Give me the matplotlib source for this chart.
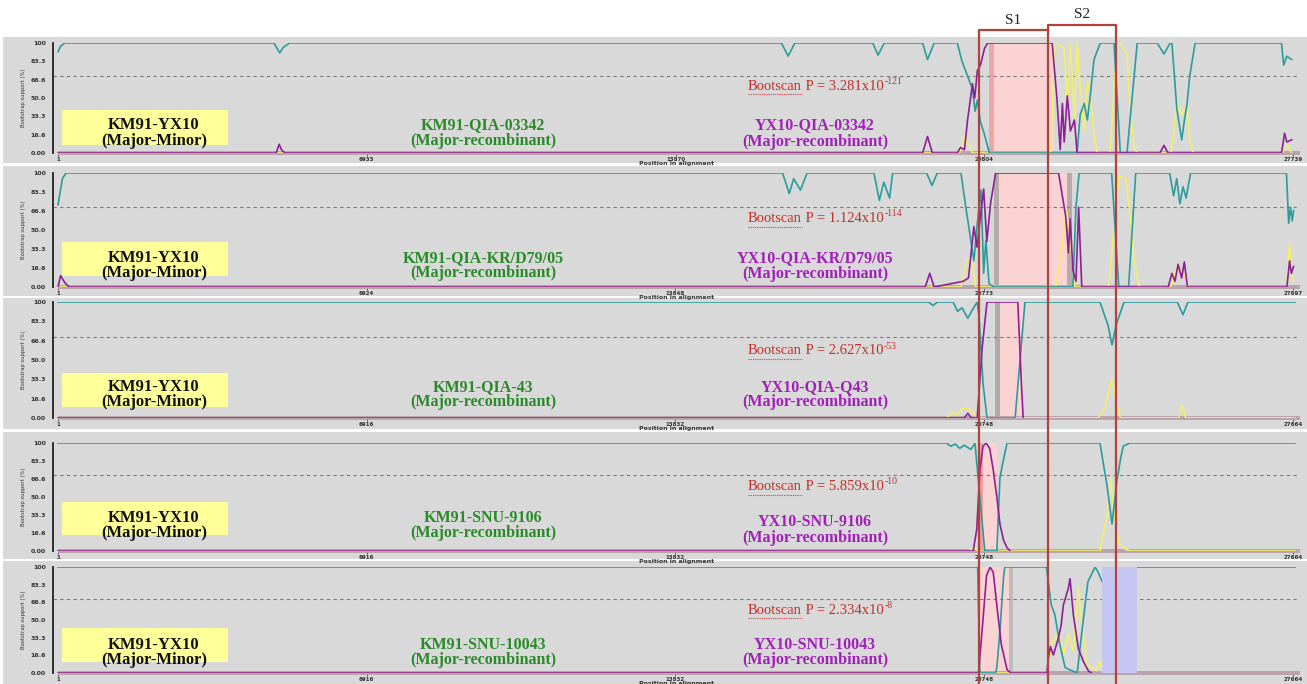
import numpy as np
import matplotlib.pyplot as plt
from matplotlib.patches import Rectangle
from matplotlib.lines import Line2D

# Data ########################################################################

lengths = [27739, 27697, 27664, 27664, 27664]
p1_xticks = [1, 6935, 13870, 20804, 27739]
p2_xticks = [1, 6924, 13848, 20773, 27697]
p3_xticks = [1, 6916, 13832, 20748, 27664]
p4_xticks = [1, 6916, 13832, 20748, 27664]
p5_xticks = [1, 6916, 13832, 20748, 27664]

yticks = [0, 16.6, 33.3, 50, 66.6, 83.3, 100]
ytick_labels = ['0.00', '16.6', '33.3', '50.0', '66.6', '83.3', '100']

green_names = ['KM91-QIA-03342', 'KM91-QIA-KR/D79/05', 'KM91-QIA-43',
               'KM91-SNU-9106', 'KM91-SNU-10043']
purple_names = ['YX10-QIA-03342', 'YX10-QIA-KR/D79/05', 'YX10-QIA-Q43',
                'YX10-SNU-9106', 'YX10-SNU-10043']
p_mant = ['3.281', '1.124', '2.627', '5.859', '2.334']
p_exp = ['-121', '-114', '-53', '-10', '-8']

# breakpoints (alignment position) of S1 / S2
s_bounds = [20630, 22176, 23700]

# panel 1
p1_teal_x = [1, 60, 150, 4850, 4980, 5060, 5200, 16250, 16400, 16550, 18300, 18420, 18560,
             19420, 19530, 19680, 20200, 20300, 20430, 20540, 20600, 20650, 20720, 20800, 20920,
             22890, 22960, 23050, 23120, 23180, 23270, 23410, 23720, 23860, 24010, 24240,
             24690, 24840, 24980, 25020, 25130, 25240, 25300, 25360, 25420, 25540,
             27480, 27530, 27600, 27710]
p1_teal_y = [92, 97, 100, 100, 91, 96, 100, 100, 88, 100, 100, 89, 100,
             100, 85, 100, 100, 84, 70, 58, 38, 48, 28, 18, 0,
             0, 35, 45, 30, 50, 85, 100, 100, 0, 0, 100,
             100, 90, 100, 100, 40, 12, 30, 45, 70, 100,
             100, 80, 88, 85]
p1_purple_x = [1, 4900, 4970, 5020, 5100, 19420, 19530, 19640, 20200, 20270, 20360, 20430,
               20540, 20590, 20650, 20720, 20810, 20880, 22330, 22440, 22510, 22560, 22600,
               22670, 22740, 22830, 22890, 24750, 24840, 24930, 27480, 27550, 27600, 27710]
p1_purple_y = [0, 0, 8, 3, 0, 0, 15, 0, 0, 5, 3, 30,
               63, 50, 75, 80, 95, 100, 100, 48, 3, 45, 10,
               52, 20, 30, 0, 0, 7, 0, 0, 18, 10, 12]
p1_yellow_x = [1, 20250, 20360, 20450, 20540, 22300, 22380, 22440, 22600, 22670, 22740, 22830,
               22890, 22960, 23050, 23120, 23180, 23270, 23340, 23630, 23720, 23790, 23860,
               24010, 24080, 24170, 24240, 25000, 25130, 25240, 25360, 25420, 25500,
               27500, 27600, 27710]
p1_yellow_y = [0, 0, 15, 8, 0, 0, 100, 100, 95, 40, 100, 30,
               100, 60, 20, 65, 55, 15, 0, 0, 60, 100, 100,
               90, 40, 5, 0, 0, 45, 35, 45, 10, 0,
               0, 8, 0]

# panel 2
p2_teal_x = [1, 100, 180, 16250, 16400, 16500, 16650, 16800, 18300, 18420, 18520, 18650, 18720,
             19480, 19600, 19720, 20250, 20360, 20540, 20610, 20700, 20760, 20810, 20880, 20990,
             22760, 22830, 22900, 23630, 23790, 24010, 24170, 24930, 25020, 25090, 25160, 25230,
             25300, 25400, 27550, 27600, 27640, 27680, 27710]
p2_teal_y = [72, 95, 100, 100, 82, 95, 85, 100, 100, 76, 92, 78, 100,
             100, 89, 100, 100, 70, 23, 53, 85, 12, 41, 3, 0,
             0, 70, 100, 100, 0, 0, 100, 100, 80, 95, 73, 88,
             78, 100, 100, 56, 70, 58, 67]
p2_purple_x = [1, 60, 150, 250, 19450, 19550, 19650, 20300, 20420, 20540, 20610, 20760, 20830,
               20920, 21030, 22440, 22600, 22660, 22700, 22760, 22830, 22890, 22960, 24900,
               24980, 25050, 25120, 25200, 25260, 25330, 27560, 27620, 27660, 27710]
p2_purple_y = [0, 10, 4, 0, 0, 12, 0, 5, 8, 53, 35, 86, 40,
               75, 100, 100, 62, 30, 60, 15, 5, 70, 0, 0,
               12, 5, 20, 8, 22, 0, 0, 23, 12, 18]
p2_yellow_x = [1, 20250, 20360, 20470, 20580, 22380, 22500, 22620, 22700, 22800, 23560, 23700,
               23800, 23950, 24050, 24150, 24250, 24950, 25100, 25250, 25350, 27560, 27620,
               27660, 27710]
p2_yellow_y = [0, 0, 22, 26, 0, 0, 30, 67, 40, 0, 0, 60,
               98, 95, 60, 20, 0, 0, 18, 12, 0, 0, 38,
               10, 5]

# panel 3
p3_teal_x = [1, 19500, 19600, 19700, 20050, 20150, 20250, 20380, 20480, 20590, 20630, 20720,
             20810, 21440, 21550, 21660, 23340, 23520, 23610, 23700, 23880, 25070, 25200,
             25310, 27710]
p3_teal_y = [100, 100, 97, 100, 100, 92, 95, 86, 93, 100, 88, 30,
             0, 0, 50, 100, 100, 80, 63, 80, 100, 100, 89,
             100, 100]
p3_purple_x = [1, 20300, 20380, 20460, 20590, 20700, 20810, 21500, 21580, 21620]
p3_purple_y = [0, 0, 4, 0, 0, 60, 100, 100, 30, 0]
p3_yellow_x = [1, 19900, 20050, 20150, 20250, 20380, 20500, 20600, 23300, 23450, 23520, 23610,
               23700, 23800, 25100, 25180, 25260, 27710]
p3_yellow_y = [0, 0, 5, 3, 8, 9, 5, 0, 0, 8, 20, 33,
               15, 0, 0, 11, 0, 0]

# panel 4
p4_teal_x = [1, 19900, 20000, 20100, 20200, 20300, 20450, 20540, 20650, 20760, 21030, 21100,
             21180, 21260, 23340, 23500, 23610, 23720, 23800, 23860, 24010, 27710]
p4_teal_y = [100, 100, 97, 99, 95, 98, 94, 100, 50, 0, 0, 68,
             85, 100, 100, 60, 25, 65, 85, 97, 100, 100]
p4_purple_x = [1, 20500, 20580, 20650, 20720, 20790, 20870, 20950, 21030, 21100, 21180, 21260, 21330]
p4_purple_y = [0, 0, 20, 75, 97, 100, 95, 75, 50, 25, 10, 3, 0]
p4_yellow_x = [1, 20400, 20520, 20600, 23340, 23500, 23580, 23660, 23760, 23900, 24010, 27710]
p4_yellow_y = [0, 0, 3, 0, 0, 34, 68, 34, 8, 2, 0, 0]

# panel 5
p5_teal_x = [1, 20600, 20650, 21000, 21030, 21100, 21180, 21210, 22140, 22250, 22330, 22440,
             22560, 22830, 22960, 23070, 23230, 23300, 23390, 23600, 27710]
p5_teal_y = [100, 100, 0, 0, 5, 40, 90, 100, 100, 64, 55, 27,
             5, 0, 48, 86, 100, 95, 86, 100, 100]
p5_purple_x = [1, 20620, 20700, 20800, 20880, 20950, 21030, 21130, 21260, 21350, 22150, 22185,
               22230, 22297, 22409, 22470, 22520, 22632, 22669, 22744, 22856, 22968, 23080, 23150]
p5_purple_y = [0, 0, 40, 92, 100, 95, 64, 27, 3, 0, 0, 14,
               25, 17, 33, 45, 64, 80, 89, 55, 23, 11, 2, 0]
p5_yellow_x = [1, 22150, 22257, 22409, 22520, 22632, 22744, 22856, 22930, 23043, 23266, 23341, 23400]
p5_yellow_y = [0, 0, 27, 39, 17, 36, 20, 80, 48, 8, 2, 11, 0]

# shaded regions (start, end, colour)
p1_spans = [(20922, 22378, '#fcd3d3'), (20922, 21034, '#eda5a5')]
p2_spans = [(21034, 22736, '#fcd3d3'), (20989, 21101, '#b9aaaa'), (22630, 22740, '#b9aaaa')]
p3_spans = [(20989, 21616, '#fcd3d3'), (20989, 21090, '#ababab')]
p4_spans = [(20653, 21034, '#fcd3d3'), (20653, 20720, '#eaa0a0')]
p5_spans = [(20608, 21392, '#fcd3d3'), (21300, 21392, '#bcbcbc')]
p5_top_spans = [(23386, 24170, '#c6c6f4')]

# Layout ######################################################################

W, H = 1307, 684
TEAL, PURPLE, YELLOW = '#2b9c9c', '#8e2096', '#f2ef6c'
BG = '#d9d9d9'
RED = '#b3423c'

fig = plt.figure(figsize=(W / 100, H / 100), dpi=100)
fig.patch.set_facecolor('white')
renderer = fig.canvas.get_renderer()


def fx(px):
    return px / W


def fy(py):
    return 1 - py / H


panels = [
    dict(xt=p1_xticks, tx=p1_teal_x, ty=p1_teal_y, px=p1_purple_x, py=p1_purple_y,
         yx=p1_yellow_x, yy=p1_yellow_y, spans=p1_spans, top=[],
         bg=(37, 163), plot=(43, 153), box=(110, 145), rows=(125, 141), prow=(125, 142), boot=86),
    dict(xt=p2_xticks, tx=p2_teal_x, ty=p2_teal_y, px=p2_purple_x, py=p2_purple_y,
         yx=p2_yellow_x, yy=p2_yellow_y, spans=p2_spans, top=[],
         bg=(166, 296), plot=(173, 287), box=(242, 276), rows=(258, 273), prow=(258, 274), boot=219),
    dict(xt=p3_xticks, tx=p3_teal_x, ty=p3_teal_y, px=p3_purple_x, py=p3_purple_y,
         yx=p3_yellow_x, yy=p3_yellow_y, spans=p3_spans, top=[],
         bg=(298, 429), plot=(302, 418), box=(373, 407), rows=(387, 402), prow=(387, 402), boot=351),
    dict(xt=p4_xticks, tx=p4_teal_x, ty=p4_teal_y, px=p4_purple_x, py=p4_purple_y,
         yx=p4_yellow_x, yy=p4_yellow_y, spans=p4_spans, top=[],
         bg=(432, 559), plot=(443, 551), box=(502, 535), rows=(518, 533), prow=(522, 538), boot=487),
    dict(xt=p5_xticks, tx=p5_teal_x, ty=p5_teal_y, px=p5_purple_x, py=p5_purple_y,
         yx=p5_yellow_x, yy=p5_yellow_y, spans=p5_spans, top=p5_top_spans,
         bg=(561, 684), plot=(567, 673), box=(628, 662), rows=(645, 660), prow=(645, 660), boot=610),
]

serif = 'Liberation Serif'
axes = []
for i, p in enumerate(panels):
    L = lengths[i]
    s = (L - 1) / 1235.0
    # panel background
    fig.patches.append(Rectangle((fx(3), fy(p['bg'][1])), fx(1307) - fx(3),
                                 (p['bg'][1] - p['bg'][0]) / H, transform=fig.transFigure,
                                 facecolor=BG, edgecolor='none', zorder=-5))
    top, bot = p['plot']
    ax = fig.add_axes([fx(53), fy(bot), fx(1300) - fx(53), (bot - top) / H])
    ax.set_facecolor('none')
    ax.set_xlim(1 - 5 * s, L + 7 * s)
    ax.set_ylim(0, 100)
    for side in ['top', 'right', 'bottom']:
        ax.spines[side].set_visible(False)
    ax.spines['left'].set_color('#222222')
    ax.spines['left'].set_linewidth(1.3)

    for a, b, c in p['spans']:
        ax.axvspan(a, b, color=c, lw=0, zorder=1)
    ax.axhline(70, color='#7a7a7a', lw=0.8, ls=(0, (3, 3)), zorder=1.5)
    ax.hlines(0, 1, L + 7 * s, color='#bba2ad', lw=2.8, clip_on=False, zorder=2)

    ax.plot(p['yx'], p['yy'], color=YELLOW, lw=1.2, zorder=3)
    ax.plot(p['tx'], p['ty'], color=TEAL, lw=1.2, zorder=3.2)
    ax.plot(p['px'], p['py'], color=PURPLE, lw=1.2, zorder=3.4)
    for a, b, c in p['top']:
        ax.axvspan(a, b, color=c, lw=0, zorder=4)

    ax.set_yticks(yticks)
    ax.set_yticklabels(ytick_labels, fontsize=4.5, fontweight='bold', color='#333333')
    ax.tick_params(axis='y', length=0, pad=5)
    ax.set_xticks(p['xt'])
    ax.set_xticklabels([str(v) for v in p['xt']], fontsize=4, fontweight='bold', color='#333333')
    ax.tick_params(axis='x', length=2, width=0.6, pad=1, color='#333333')
    ax.set_xlabel('Position in alignment', fontsize=4.5, fontweight='bold', labelpad=-1,
                  color='#333333')
    ax.set_ylabel('Bootstrap support (%)', fontsize=3.8, labelpad=3, color='#333333')
    axes.append(ax)

    # annotations
    b0, b1 = p['box']
    fig.patches.append(Rectangle((fx(62), fy(b1)), fx(228) - fx(62), (b1 - b0) / H,
                                 transform=fig.transFigure, facecolor='#ffff99',
                                 edgecolor='none', zorder=1))
    r0, r1 = p['rows']
    fig.text(fx(154), fy(r0), 'KM91-YX10', ha='center', va='center', family=serif,
             weight='bold', size=12, color='#111111')
    fig.text(fx(154), fy(r1), '(Major-Minor)', ha='center', va='center', family=serif,
             weight='bold', size=12, color='#111111')
    fig.text(fx(483), fy(r0), green_names[i], ha='center', va='center', family=serif,
             weight='bold', size=11.5, color='#2a8a2a')
    fig.text(fx(483), fy(r1), '(Major-recombinant)', ha='center', va='center', family=serif,
             weight='bold', size=11.5, color='#2a8a2a')
    q0, q1 = p['prow']
    fig.text(fx(815), fy(q0), purple_names[i], ha='center', va='center', family=serif,
             weight='bold', size=11.5, color='#a020b8')
    fig.text(fx(815), fy(q1), '(Major-recombinant)', ha='center', va='center', family=serif,
             weight='bold', size=11.5, color='#a020b8')

    # Bootscan P with superscript exponent and spell-check squiggle
    by = p['boot']
    t0 = fig.text(fx(748), fy(by), 'Bootscan', ha='left', va='center', family=serif,
                  size=10.5, color='#c0302a')
    bb0 = t0.get_window_extent(renderer)
    t1 = fig.text(bb0.x1 / W, fy(by), ' P = ' + p_mant[i] + 'x10', ha='left', va='center',
                  family=serif, size=10.5, color='#c0302a')
    bb1 = t1.get_window_extent(renderer)
    fig.text(bb1.x1 / W + 0.0005, fy(by - 5), p_exp[i], ha='left', va='center', family=serif,
             size=7, color='#c0302a')
    fig.add_artist(Line2D([bb0.x0 / W, bb0.x1 / W], [fy(by + 8), fy(by + 8)],
                          color='#d04040', lw=0.8, ls=(0, (1, 1)), transform=fig.transFigure))

# S1 / S2 boxes across all panels
ref = axes[2]
xs = [ref.transData.transform((v, 0))[0] / fig.bbox.width for v in s_bounds]
lk = dict(color=RED, lw=1.6, transform=fig.transFigure, zorder=6)
fig.add_artist(Line2D([xs[0], xs[0], xs[1]], [0, fy(30), fy(30)], **lk))
fig.add_artist(Line2D([xs[1], xs[1], xs[2], xs[2]], [0, fy(25), fy(25), 0], **lk))
fig.text((xs[0] + xs[1]) / 2, fy(20), 'S1', ha='center', va='center', family=serif,
         size=11, color='#222222')
fig.text((xs[1] + xs[2]) / 2, fy(15), 'S2', ha='center', va='center', family=serif,
         size=11, color='#222222')

fig.savefig('out.png', dpi=100)
